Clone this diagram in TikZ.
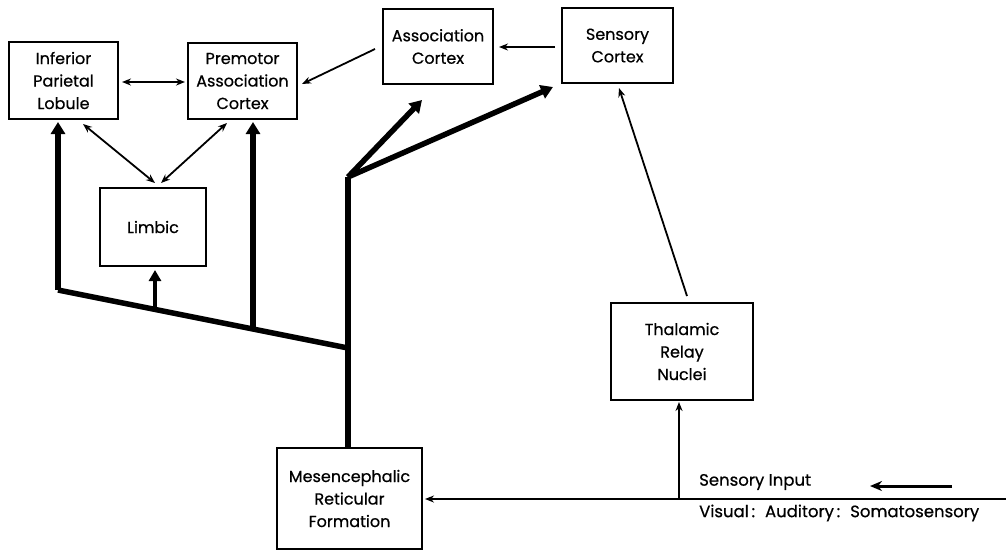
\documentclass[tikz,border=0pt]{standalone}
\usepackage{fontspec}
\setmainfont{Poppins}[FakeBold=0.6]
\usetikzlibrary{arrows.meta}
\begin{document}
\begin{tikzpicture}[x=1pt,y=-1pt,
  box/.style={draw,line width=2.2pt,rectangle,inner sep=0pt,align=center,font=\fontsize{16}{22.5}\selectfont},
  thin/.style={line width=1.8pt,-{Stealth[length=9pt,width=7pt]}},
  both/.style={line width=1.8pt,{Stealth[length=9pt,width=7pt]}-{Stealth[length=9pt,width=7pt]}},
  thick/.style={line width=5.5pt,line join=miter},
  thickarrow/.style={line width=5.5pt,-{Triangle[length=12pt,width=14pt]}},
  lbl/.style={font=\fontsize{16.5}{22}\selectfont,inner sep=0pt}]
\useasboundingbox (0,0) rectangle (1006,550);
\node[box,minimum width=109pt,minimum height=77pt] (ipl) at (63.5,80.5) {Inferior\\Parietal\\Lobule};
\node[box,minimum width=109pt,minimum height=76pt] (pac) at (242.5,81) {Premotor\\Association\\Cortex};
\node[box,minimum width=110pt,minimum height=75pt] (ac) at (438,46.5) {Association\\Cortex};
\node[box,minimum width=111pt,minimum height=75pt] (sc) at (617.5,45.5) {Sensory\\Cortex};
\node[box,minimum width=106pt,minimum height=78pt] (lim) at (153,227) {Limbic};
\node[box,minimum width=142pt,minimum height=97pt] (tha) at (682,351.5) {Thalamic\\Relay\\Nuclei};
\node[box,minimum width=145pt,minimum height=101pt] (mes) at (349.5,498.5) {Mesencephalic\\Reticular\\Formation};
% thin arrows
\coordinate (a1) at (122,82);
\coordinate (a2) at (185,82);
\draw[both] (a1) -- (a2);
\coordinate (limtop1) at (155,183);
\coordinate (limtop2) at (161,183);
\coordinate (b1) at (83,124);
\coordinate (b2) at (227,123);
\draw[both] (b1) -- (limtop1);
\draw[both] (b2) -- (limtop2);
\coordinate (c1) at (375,49);
\coordinate (c2) at (302,84);
\draw[thin] (c1) -- (c2);
\coordinate (d1) at (555,47);
\coordinate (d2) at (499,47);
\draw[thin] (d1) -- (d2);
\coordinate (thtop) at (687,296);
\coordinate (scbot) at (619,88);
\draw[thin] (thtop) -- (scbot);
% input line
\coordinate (inR) at (1006,499);
\coordinate (inL) at (425,499);
\coordinate (thx) at (679,499);
\coordinate (thb) at (679,402);
\draw[thin] (inR) -- (inL);
\draw[thin] (thx) -- (thb);
\coordinate (sa1) at (952,486);
\coordinate (sa2) at (870,486);
\draw[line width=3pt,-{Stealth[length=12pt,width=10pt]}] (sa1) -- (sa2);
\node[lbl,anchor=west] (si) at (699,482) {Sensory Input};
\node[lbl,anchor=west] (vas) at (699,513) {Visual\,:\hspace{10pt}Auditory\,:\hspace{10pt}Somatosensory};
% thick pathways
\coordinate (j) at (348,348);
\coordinate (k) at (348,177);
\coordinate (l) at (58,290);
\coordinate (p) at (253,329);
\coordinate (m) at (155,308);
\coordinate (mt) at (348,448);
\coordinate (iplb) at (58,122);
\coordinate (pacb) at (253,122);
\coordinate (limb) at (155,270);
\coordinate (acb) at (422,100);
\coordinate (scl) at (553,87);
\draw[thick] (mt) -- (k);
\draw[thick] (j) -- (l);
\draw[thickarrow] (l) -- (iplb);
\draw[thickarrow] (p) -- (pacb);
\draw[line width=4.5pt,-{Triangle[length=11pt,width=12pt]}] (m) -- (limb);
\draw[thickarrow] (k) -- (acb);
\draw[thickarrow] (k) -- (scl);
\end{tikzpicture}
\end{document}
